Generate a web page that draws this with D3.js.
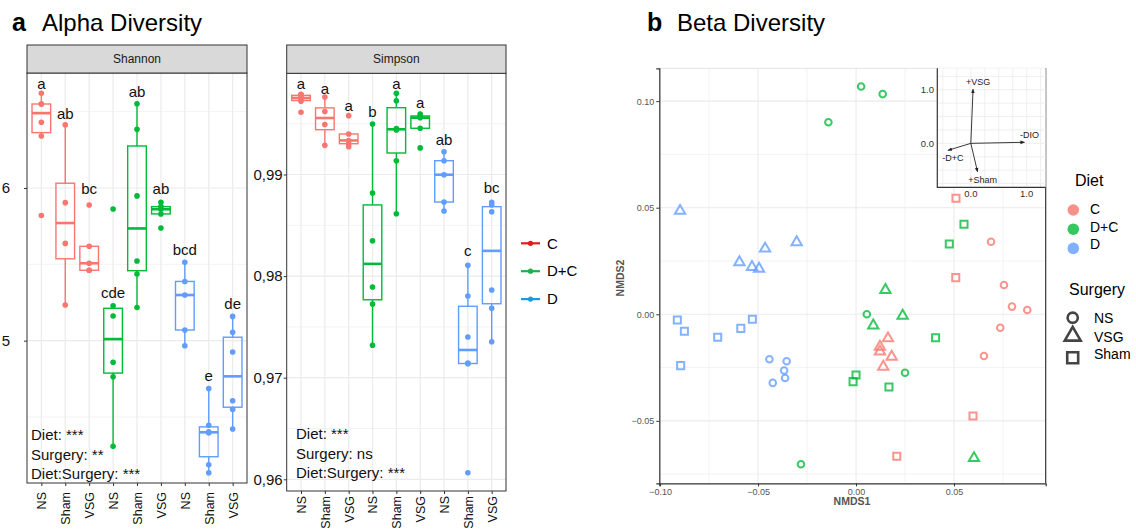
<!DOCTYPE html>
<html>
<head>
<meta charset="utf-8">
<script src="https://cdn.jsdelivr.net/npm/d3@7"></script>
<style>
body{margin:0;background:#fff}
svg{display:block;font-family:"Liberation Sans",Arial,sans-serif}
</style>
</head>
<body>
<svg id="chart" width="1136" height="532"></svg>
<script>
// groups, in the order they sit on the x axis
var diets=["C","D+C","D"];
var surgeries=["NS","Sham","VSG"];
var dietColors=["#F8766D","#00BA38","#619CFF"];
var legendColors=["#E41A1C","#1FAF4B","#1A9AE3"];

// Shannon index, one array per group (C NS, C Sham, C VSG, D+C NS ...)
var shannonValues=[
  [6.62,6.55,6.55,6.43,6.34,5.82],
  [6.413,5.904,5.637,5.234],
  [5.889,5.618,5.507,5.461,5.461],
  [5.862,5.229,5.162,4.859,4.764,4.308],
  [6.552,6.384,5.948,5.522,5.437,5.217],
  [5.906,5.878,5.861,5.83,5.738],
  [5.513,5.388,5.299,5.07,4.967],
  [4.687,4.446,4.404,4.396,4.188,4.135],
  [5.159,5.055,4.926,4.607,4.55,4.422]
];
var shannonLetters=["a","ab","bc","cde","ab","ab","bcd","e","de"];
var shannonLetterAt=[6.681,6.487,5.995,5.317,6.629,5.995,5.594,4.771,5.245];
var shannonNotes=["Diet: ***","Surgery: **","Diet:Surgery: ***"];

// Simpson index
var simpsonValues=[
  [0.99790,0.99785,0.99762,0.99745,0.99722,0.99612],
  [0.99763,0.99620,0.99492,0.99287],
  [0.99579,0.99399,0.99335,0.99303,0.99274],
  [0.99497,0.98818,0.98348,0.97893,0.97725,0.97319],
  [0.99800,0.99726,0.99452,0.99438,0.99136,0.98614],
  [0.99595,0.99576,0.99559,0.99455,0.99262],
  [0.99224,0.99136,0.98998,0.98729,0.98641],
  [0.98106,0.97804,0.97401,0.97145,0.97138,0.96065],
  [0.98726,0.98700,0.98634,0.97863,0.97683,0.97354]
];
var simpsonLetters=["a","a","a","b","a","a","ab","c","bc"];
var simpsonLetterAt=[0.99898,0.99848,0.99677,0.99618,0.99898,0.99711,0.9934,0.98247,0.9887];
var simpsonNotes=["Diet: ***","Surgery: ns","Diet:Surgery: ***"];

// NMDS scores, one array of [NMDS1, NMDS2] per diet/surgery group
var nmdsGroups=[["C","NS"],["C","VSG"],["C","Sham"],["D+C","NS"],["D+C","VSG"],["D+C","Sham"],["D","NS"],["D","VSG"],["D","Sham"]];
var nmdsPoints=[
  [[0.0689,0.034],[0.0755,0.0137],[0.0796,0.0036],[0.0874,0.002],[0.0736,-0.0063],[0.0653,-0.0196]],
  [[0.0163,-0.0113],[0.0122,-0.0152],[0.0122,-0.0175],[0.0182,-0.0199],[0.0139,-0.0246]],
  [[0.051,0.0544],[0.0509,0.0172],[0.0597,-0.0477],[0.0208,-0.0666]],
  [[-0.0141,0.0901],[0.0026,0.1069],[0.0136,0.1033],[-0.0281,-0.0704],[0.0055,0.0],[0.025,-0.0274]],
  [[0.015,0.0114],[0.0238,-0.0007],[0.0088,-0.0053],[0.0602,-0.0675]],
  [[0.0551,0.0422],[0.0476,0.033],[0.0406,-0.011],[0.0,-0.0285],[-0.0015,-0.0316],[0.0168,-0.0341]],
  [[-0.0442,-0.0211],[-0.0354,-0.022],[-0.0367,-0.0264],[-0.0362,-0.0299],[-0.0425,-0.0322]],
  [[-0.0898,0.0485],[-0.0595,0.0244],[-0.0531,0.0222],[-0.0495,0.0214],[-0.0464,0.0308],[-0.0303,0.0338]],
  [[-0.0912,-0.0027],[-0.0876,-0.008],[-0.0895,-0.0241],[-0.0706,-0.0108],[-0.0588,-0.0066],[-0.0529,-0.0023]]
];
var nmdsTicks=[-0.10,-0.05,0.00,0.05];
var nmdsYTicks=[-0.05,0.00,0.05,0.10];

// envfit arrows for the inset
var envLabels=["+VSG","-DIO","-D+C","+Sham"];
var envX=[0.04,0.96,-0.41,0.12];
var envY=[1.01,0.02,-0.13,-0.53];

var svg=d3.select("#chart");
var grid="#ebebeb", border="#333333";

// titles
function title(x,letter,text){
  svg.append("text").attr("x",x).attr("y",31).attr("font-size",25).attr("font-weight","bold").text(letter);
  svg.append("text").attr("x",x+30).attr("y",31).attr("font-size",24).text(text);
}
title(12,"a","Alpha Diversity");
title(647,"b","Beta Diversity");

//Boxplot panel
function drawAlpha(o){
  var n=o.values.length;
  var x=d3.scalePoint().domain(d3.range(n)).range([o.x0,o.x1]).padding(0.6);
  var y=d3.scaleLinear().domain(o.domain).range([o.y1,o.y0]);
  var bw=x.step()*0.78;
  var g=svg.append("g");

  g.selectAll(".minor").data(o.minor).join("line")
    .attr("x1",o.x0).attr("x2",o.x1).attr("y1",y).attr("y2",y)
    .attr("stroke",grid).attr("stroke-width",0.6);
  g.selectAll(".major").data(o.major).join("line")
    .attr("x1",o.x0).attr("x2",o.x1).attr("y1",y).attr("y2",y)
    .attr("stroke",grid).attr("stroke-width",1.2);
  g.selectAll(".vgrid").data(d3.range(n)).join("line")
    .attr("x1",x).attr("x2",x).attr("y1",o.y0).attr("y2",o.y1)
    .attr("stroke",grid).attr("stroke-width",1.2);

  o.values.forEach(function(vals,i){
    var col=dietColors[Math.floor(i/3)];
    var s=vals.slice().sort(d3.ascending);
    var q1=d3.quantile(s,0.25), med=d3.quantile(s,0.5), q3=d3.quantile(s,0.75);
    var iqr=q3-q1;
    var lo=d3.min(s.filter(function(v){return v>=q1-1.5*iqr;}));
    var hi=d3.max(s.filter(function(v){return v<=q3+1.5*iqr;}));
    var cx=x(i);
    g.append("line").attr("x1",cx).attr("x2",cx).attr("y1",y(hi)).attr("y2",y(q3))
      .attr("stroke",col).attr("stroke-width",1.4);
    g.append("line").attr("x1",cx).attr("x2",cx).attr("y1",y(q1)).attr("y2",y(lo))
      .attr("stroke",col).attr("stroke-width",1.4);
    g.append("rect").attr("x",cx-bw/2).attr("width",bw)
      .attr("y",y(q3)).attr("height",Math.max(0.5,y(q1)-y(q3)))
      .attr("fill","none").attr("stroke",col).attr("stroke-width",1.4);
    g.append("line").attr("x1",cx-bw/2).attr("x2",cx+bw/2).attr("y1",y(med)).attr("y2",y(med))
      .attr("stroke",col).attr("stroke-width",2.6);
    g.selectAll(null).data(vals).join("circle")
      .attr("cx",cx).attr("cy",y).attr("r",2.8).attr("fill",col);
    g.append("text").attr("x",cx).attr("y",y(o.letterAt[i])).attr("dy","0.35em")
      .attr("text-anchor","middle").attr("font-size",15).attr("fill","#111").text(o.letters[i]);
  });

  g.append("rect").attr("x",o.x0).attr("y",o.y0).attr("width",o.x1-o.x0).attr("height",o.y1-o.y0)
    .attr("fill","none").attr("stroke",border).attr("stroke-width",1);
  g.append("rect").attr("x",o.x0).attr("y",45).attr("width",o.x1-o.x0).attr("height",o.y0-45)
    .attr("fill","#d9d9d9").attr("stroke",border).attr("stroke-width",1);
  g.append("text").attr("x",(o.x0+o.x1)/2).attr("y",(45+o.y0)/2).attr("dy","0.35em")
    .attr("text-anchor","middle").attr("font-size",12).attr("fill","#1a1a1a").text(o.title);

  g.selectAll(".note").data(o.notes).join("text")
    .attr("x",o.noteX).attr("y",function(d,k){return o.noteY+k*19.5;})
    .attr("font-size",15).attr("fill","#111").text(function(d){return d;});

  var ya=g.append("g").attr("transform","translate("+o.x0+",0)")
    .call(d3.axisLeft(y).tickValues(o.major).tickFormat(o.fmt).tickSize(3).tickPadding(o.pad));
  ya.select(".domain").remove();
  ya.selectAll("line").attr("stroke",border);
  ya.selectAll("text").attr("font-size",15).attr("fill","#111").attr("font-family",null);

  var xa=g.append("g").attr("transform","translate(0,"+o.y1+")")
    .call(d3.axisBottom(x).tickSize(3).tickFormat(function(i){return surgeries[i%3];}));
  xa.select(".domain").remove();
  xa.selectAll("line").attr("stroke",border);
  xa.selectAll("text").attr("font-size",12.5).attr("fill","#111").attr("font-family",null)
    .attr("transform","rotate(-90)").attr("text-anchor","end")
    .attr("x",-o.xlab).attr("y",0).attr("dy","0.35em");
}

drawAlpha({values:shannonValues,letters:shannonLetters,letterAt:shannonLetterAt,notes:shannonNotes,
  title:"Shannon",x0:27,x1:247,y0:73,y1:483,domain:[4.068,6.753],
  major:[5,6],minor:[4.5,5.5,6.5],fmt:d3.format("d"),pad:14,xlab:9,noteX:31,noteY:440});
drawAlpha({values:simpsonValues,letters:simpsonLetters,letterAt:simpsonLetterAt,notes:simpsonNotes,
  title:"Simpson",x0:286.7,x1:506,y0:73.3,y1:491,domain:[0.95885,0.99996],
  major:[0.96,0.97,0.98,0.99],minor:[0.965,0.975,0.985,0.995],
  fmt:function(v){return d3.format(".2f")(v).replace(".",",");},pad:1,xlab:5,noteX:296,noteY:439});

// legend for the alpha panels
diets.forEach(function(d,i){
  var cy=243.3+i*27.9;
  svg.append("line").attr("x1",521).attr("x2",540).attr("y1",cy).attr("y2",cy)
    .attr("stroke",legendColors[i]).attr("stroke-width",2.2);
  svg.append("circle").attr("cx",530.5).attr("cy",cy).attr("r",2.6).attr("fill",legendColors[i]);
  svg.append("text").attr("x",547).attr("y",cy).attr("dy","0.35em").attr("font-size",15).text(d);
});

// NMDS scatter
var bx=d3.scaleLinear().domain([-0.1004,0.0968]).range([659.3,1045.7]);
var by=d3.scaleLinear().domain([-0.0793,0.1154]).range([483.3,68.3]);
var b=svg.append("g");
var minorB=[-0.075,-0.025,0.025,0.075];
b.selectAll(".vm").data(minorB).join("line").attr("x1",bx).attr("x2",bx).attr("y1",68.3).attr("y2",483.3)
  .attr("stroke",grid).attr("stroke-width",0.6);
b.selectAll(".hm").data(minorB).join("line").attr("y1",by).attr("y2",by).attr("x1",659.3).attr("x2",1045.7)
  .attr("stroke",grid).attr("stroke-width",0.6);
b.selectAll(".vM").data(nmdsTicks).join("line").attr("x1",bx).attr("x2",bx).attr("y1",68.3).attr("y2",483.3)
  .attr("stroke",grid).attr("stroke-width",1.1);
b.selectAll(".hM").data(nmdsYTicks).join("line").attr("y1",by).attr("y2",by).attr("x1",659.3).attr("x2",1045.7)
  .attr("stroke",grid).attr("stroke-width",1.1);
b.append("line").attr("x1",659.3).attr("x2",1045.7).attr("y1",68.3).attr("y2",68.3).attr("stroke","#e3e3e3");

var shapeSym={NS:d3.symbolCircle,VSG:d3.symbolTriangle,Sham:d3.symbolSquare};
var shapeSize={NS:34,VSG:46,Sham:50};
nmdsPoints.forEach(function(pts,i){
  var diet=nmdsGroups[i][0], surg=nmdsGroups[i][1];
  var col=dietColors[diets.indexOf(diet)];
  b.selectAll(null).data(pts).join("path")
    .attr("transform",function(p){return "translate("+bx(p[0])+","+by(p[1])+")";})
    .attr("d",d3.symbol(shapeSym[surg],shapeSize[surg]))
    .attr("fill","none").attr("stroke",col).attr("stroke-width",2).attr("stroke-opacity",0.78);
});

var bxa=b.append("g").attr("transform","translate(0,483.3)")
  .call(d3.axisBottom(bx).tickValues(nmdsTicks).tickFormat(d3.format(".2f")).tickSize(3).tickPadding(2));
var bya=b.append("g").attr("transform","translate(659.3,0)")
  .call(d3.axisLeft(by).tickValues(nmdsYTicks).tickFormat(d3.format(".2f")).tickSize(3).tickPadding(2));
[bxa,bya].forEach(function(a){
  a.select(".domain").attr("stroke",border).attr("stroke-width",1.2);
  a.selectAll("line").attr("stroke",border);
  a.selectAll("text").attr("font-size",9).attr("fill","#555").attr("font-family",null);
});
b.append("line").attr("x1",1045.7).attr("x2",1045.7).attr("y1",68.3).attr("y2",483.3)
  .attr("stroke",border).attr("stroke-width",1.2);
b.append("text").attr("x",852).attr("y",505).attr("text-anchor","middle")
  .attr("font-size",10.5).attr("font-weight","bold").attr("fill","#555").text("NMDS1");
b.append("text").attr("transform","translate(624,278) rotate(-90)").attr("text-anchor","middle")
  .attr("font-size",10.5).attr("font-weight","bold").attr("fill","#555").text("NMDS2");

// inset with fitted vectors
var ix=d3.scaleLinear().domain([-0.6,1.34]).range([937.3,1045.7]);
var iy=d3.scaleLinear().domain([-0.82,1.4]).range([187.3,68.3]);
var ins=svg.append("g");
ins.append("rect").attr("x",937.3).attr("y",68.3).attr("width",108.4).attr("height",119).attr("fill","#fff");
ins.selectAll(".ig").data(d3.range(-0.5,1.35,0.25)).join("line")
  .attr("x1",ix).attr("x2",ix).attr("y1",68.3).attr("y2",187.3).attr("stroke",grid).attr("stroke-width",0.8);
ins.selectAll(".ih").data(d3.range(-0.75,1.4,0.25)).join("line")
  .attr("y1",iy).attr("y2",iy).attr("x1",937.3).attr("x2",1045.7).attr("stroke",grid).attr("stroke-width",0.8);
ins.append("path").attr("d","M937.3,68.3V187.3H1045.7").attr("fill","none").attr("stroke",border).attr("stroke-width",1.2);
svg.append("defs").append("marker").attr("id","ah").attr("viewBox","0 0 10 10")
  .attr("refX",9).attr("refY",5).attr("markerWidth",5).attr("markerHeight",5).attr("orient","auto")
  .append("path").attr("d","M0,1L10,5L0,9z").attr("fill","#222");
envLabels.forEach(function(l,i){
  ins.append("line").attr("x1",ix(0)).attr("y1",iy(0)).attr("x2",ix(envX[i])).attr("y2",iy(envY[i]))
    .attr("stroke","#222").attr("stroke-width",0.9).attr("marker-end","url(#ah)");
  ins.append("text").attr("x",ix(envX[i])+5).attr("y",iy(envY[i])+(envY[i]>=0?-7:8))
    .attr("dy","0.35em").attr("text-anchor","middle").attr("font-size",9).attr("fill","#222").text(l);
});
[0,1].forEach(function(v){
  ins.append("text").attr("x",934).attr("y",iy(v)).attr("dy","0.35em").attr("text-anchor","end")
    .attr("font-size",9.5).attr("fill","#333").text(d3.format(".1f")(v));
  ins.append("text").attr("x",ix(v)).attr("y",194).attr("dy","0.35em").attr("text-anchor","middle")
    .attr("font-size",9.5).attr("fill","#333").text(d3.format(".1f")(v));
});

// NMDS legends
svg.append("text").attr("x",1075).attr("y",180).attr("dy","0.35em").attr("font-size",16).text("Diet");
diets.forEach(function(d,i){
  svg.append("circle").attr("cx",1073.3).attr("cy",210+i*19.2).attr("r",5.8)
    .attr("fill",dietColors[i]).attr("fill-opacity",0.8);
  svg.append("text").attr("x",1090).attr("y",209+i*17.7).attr("dy","0.35em").attr("font-size",14).text(d);
});
svg.append("text").attr("x",1069).attr("y",289.3).attr("dy","0.35em").attr("font-size",16).text("Surgery");
["NS","VSG","Sham"].forEach(function(s,i){
  var cy=[317.7,336,357.7][i];
  svg.append("path").attr("transform","translate(1072.7,"+cy+")")
    .attr("d",d3.symbol(shapeSym[s],shapeSize[s]*2.4))
    .attr("fill","none").attr("stroke","#444").attr("stroke-width",2.6);
  svg.append("text").attr("x",1094).attr("y",[318.3,336.7,354][i]).attr("dy","0.35em").attr("font-size",14).text(s);
});
</script>
</body>
</html>
